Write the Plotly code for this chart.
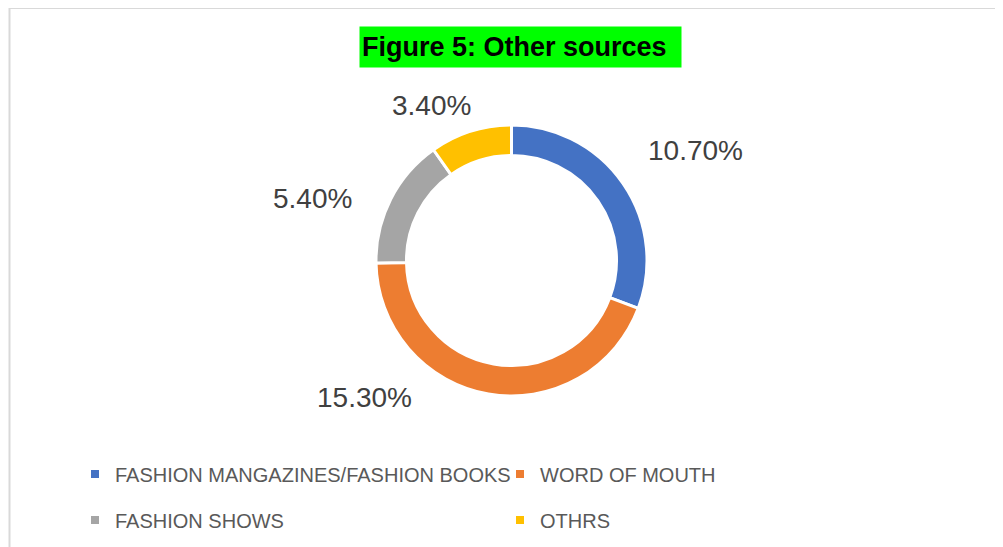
import plotly.graph_objects as go

categories = ["FASHION MANGAZINES/FASHION BOOKS", "WORD OF MOUTH", "FASHION SHOWS", "OTHRS"]
values = [10.7, 15.3, 5.4, 3.4]
colors = ["#4472C4", "#ED7D31", "#A5A5A5", "#FFC000"]
label_text = [f"{v:.2f}%" for v in values]
title_text = "Figure 5: Other sources"

# page body has an 8px margin; work in screen pixels
OFF = 8
W, H = 995, 539

def px(x):
    return (x - OFF) / W

def py(y):
    return (H - (y - OFF)) / H

fig = go.Figure()

fig.add_trace(go.Pie(
    labels=categories,
    values=values,
    marker=dict(colors=colors, line=dict(color="white", width=3)),
    hole=0.775,
    sort=False,
    direction="clockwise",
    rotation=0,
    textinfo="none",
    hoverinfo="label+percent",
    domain=dict(x=[px(376), px(647)], y=[py(396), py(125)]),
    showlegend=False,
))

# Legend entries (two rows, two columns)
legend_ids = ["legend", "legend", "legend2", "legend2"]
for cat, col, lid in zip(categories, colors, legend_ids):
    fig.add_trace(go.Scatter(
        x=[None], y=[None], mode="markers", name=cat,
        marker=dict(symbol="square", size=8, color=col),
        showlegend=True, legend=lid, hoverinfo="skip",
    ))

# Data labels positioned around the ring
label_pos = [(695, 150), (364, 397), (312, 198), (431, 105)]
for t, (x, y) in zip(label_text, label_pos):
    fig.add_annotation(
        x=px(x), y=py(y), xref="paper", yref="paper",
        text=t, showarrow=False,
        font=dict(family="Liberation Sans, Arial, sans-serif", size=28, color="#404040"),
        xanchor="center", yanchor="middle",
    )

# Title with green highlight
fig.add_annotation(
    x=px(359), y=py(47), xref="paper", yref="paper",
    text=f"<b>{title_text}</b>", showarrow=False,
    font=dict(family="Liberation Sans, Arial, sans-serif", size=27, color="black"),
    bgcolor="#00FF00", borderpad=2, width=317, height=36, align="left",
    xanchor="left", yanchor="middle",
)

# Chart border
fig.add_shape(type="rect", xref="paper", yref="paper",
              x0=px(9.5), x1=1.05, y0=-0.05, y1=py(8),
              line=dict(color="#D9D9D9", width=2), fillcolor="rgba(0,0,0,0)")

legend_font = dict(family="Liberation Sans, Arial, sans-serif", size=20, color="#595959")
fig.update_layout(
    width=W, height=H,
    margin=dict(l=0, r=0, t=0, b=0),
    paper_bgcolor="white",
    plot_bgcolor="white",
    xaxis=dict(visible=False),
    yaxis=dict(visible=False),
    legend=dict(orientation="h", x=px(75), y=py(474), xanchor="left", yanchor="middle",
                font=legend_font, entrywidth=380, bgcolor="rgba(0,0,0,0)"),
    legend2=dict(orientation="h", x=px(75), y=py(520), xanchor="left", yanchor="middle",
                 font=legend_font, entrywidth=380, bgcolor="rgba(0,0,0,0)"),
)

fig.write_html("out.html")
